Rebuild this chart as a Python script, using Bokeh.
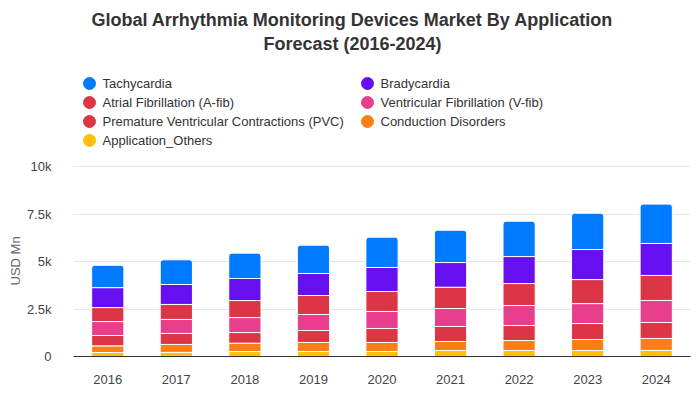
from bokeh.plotting import figure
from bokeh.models import (ColumnDataSource, Range1d, FixedTicker, Title)
from bokeh.core.properties import value
from bokeh.embed import file_html
from bokeh.resources import INLINE

years = ["2016", "2017", "2018", "2019", "2020", "2021", "2022", "2023", "2024"]
others = [210, 215, 260, 265, 265, 315, 315, 315, 320]
conduction = [350, 420, 440, 475, 475, 475, 525, 580, 630]
pvc = [545, 580, 560, 630, 735, 790, 790, 840, 840]
vfib = [735, 735, 790, 840, 895, 945, 1055, 1050, 1160]
afib = [735, 790, 895, 1000, 1050, 1120, 1155, 1265, 1315]
brady = [1050, 1050, 1160, 1160, 1265, 1300, 1420, 1580, 1685]
tachy = [1175, 1300, 1335, 1490, 1595, 1700, 1860, 1910, 2070]

series_names = ["Tachycardia", "Bradycardia", "Atrial Fibrillation (A-fib)",
                "Ventricular Fibrillation (V-fib)",
                "Premature Ventricular Contractions (PVC)",
                "Conduction Disorders", "Application_Others"]
series_keys = ["tachy", "brady", "afib", "vfib", "pvc", "conduction", "others"]
series_colors = ["#007bff", "#6610f2", "#dc3545", "#e83e8c", "#dc3545",
                 "#fd7e14", "#ffc107"]
y_ticks = [0, 2500, 5000, 7500, 10000]
y_tick_labels = ["0", "2.5k", "5k", "7.5k", "10k"]
title_lines = ["Global Arrhythmia Monitoring Devices Market By Application",
               "Forecast (2016-2024)"]

FONT = "Liberation Sans"
W, H = 692, 392
LEFT, RIGHT, BOTTOM = 73, 2, 36
FRAME_H = H - BOTTOM          # frame spans the whole height above the x axis
PLOT_H = 190                  # pixel height of the 0..10k value band
Y_TOP = max(y_ticks) * FRAME_H / PLOT_H

idx = list(range(len(years)))
source = ColumnDataSource(dict(x=idx, others=others, conduction=conduction,
                               pvc=pvc, vfib=vfib, afib=afib, brady=brady,
                               tachy=tachy))

p = figure(width=W, height=H, x_range=Range1d(-0.5, len(years) - 0.5),
           y_range=Range1d(0, Y_TOP), output_backend="svg",
           toolbar_location=None, min_border_left=LEFT,
           min_border_right=RIGHT, min_border_bottom=BOTTOM, min_border_top=0)
p.outline_line_color = None
# pixel-like ranges for the header (title + legend) drawn inside the frame
p.extra_x_ranges = {"px": Range1d(LEFT, W - RIGHT)}
p.extra_y_ranges = {"px": Range1d(FRAME_H, 0)}

stack_keys = series_keys[::-1]
stack_colors = series_colors[::-1]
rs = p.vbar_stack(stack_keys, x="x", width=0.47, color=stack_colors,
                  source=source, line_color="white", line_width=1)
rs[-1].glyph.border_radius = (3, 3, 0, 0)

# title
title_src = ColumnDataSource(dict(
    x=[352] * len(title_lines),
    y=[19 + 24 * i for i in range(len(title_lines))],
    text=title_lines))
p.text(x="x", y="y", text="text", source=title_src,
       x_range_name="px", y_range_name="px",
       text_font=value(FONT), text_font_size="18px",
       text_font_style="bold", text_color="#333333",
       text_align="center", text_baseline="middle")

# legend (two columns, row-major)
n = len(series_names)
leg_x0, leg_y0, col_dx, row_dy = 89, 83, 278, 19
leg_src = ColumnDataSource(dict(
    x=[leg_x0 + col_dx * (i % 2) for i in range(n)],
    y=[leg_y0 + row_dy * (i // 2) for i in range(n)],
    tx=[leg_x0 + 13 + col_dx * (i % 2) for i in range(n)],
    name=series_names, color=series_colors))
p.scatter(x="x", y="y", source=leg_src, marker="circle", size=12,
          fill_color="color", line_color="color",
          x_range_name="px", y_range_name="px")
p.text(x="tx", y="y", text="name", source=leg_src,
       x_range_name="px", y_range_name="px",
       text_font=value(FONT), text_font_size="13px",
       text_color="#333333", text_baseline="middle")

# axes
p.yaxis.ticker = FixedTicker(ticks=y_ticks)
p.yaxis.major_label_overrides = {t: l for t, l in zip(y_ticks, y_tick_labels)}
p.yaxis.axis_line_color = None
p.yaxis.major_tick_line_color = None
p.yaxis.minor_tick_line_color = None
p.yaxis.major_label_standoff = 16
p.yaxis.major_label_text_font = FONT
p.yaxis.major_label_text_font_size = "13px"
p.yaxis.major_label_text_color = "#444444"

ylab = Title(text="USD Mn", align="left", offset=71, standoff=1,
             text_font=FONT, text_font_size="13px", text_font_style="normal",
             text_color="#666666")
p.add_layout(ylab, "left")

p.xaxis.ticker = FixedTicker(ticks=idx)
p.xaxis.major_label_overrides = {i: y for i, y in zip(idx, years)}
p.xaxis.axis_line_color = "#333333"
p.xaxis.axis_line_width = 1
p.xaxis.major_tick_line_color = None
p.xaxis.minor_tick_line_color = None
p.xaxis.major_label_standoff = 12
p.xaxis.major_label_text_font = FONT
p.xaxis.major_label_text_font_size = "13px"
p.xaxis.major_label_text_color = "#444444"

p.xgrid.grid_line_color = None
p.ygrid.grid_line_color = "#e6e6e6"
p.ygrid.ticker = FixedTicker(ticks=y_ticks)

open("out.html", "w").write(file_html(p, INLINE))
